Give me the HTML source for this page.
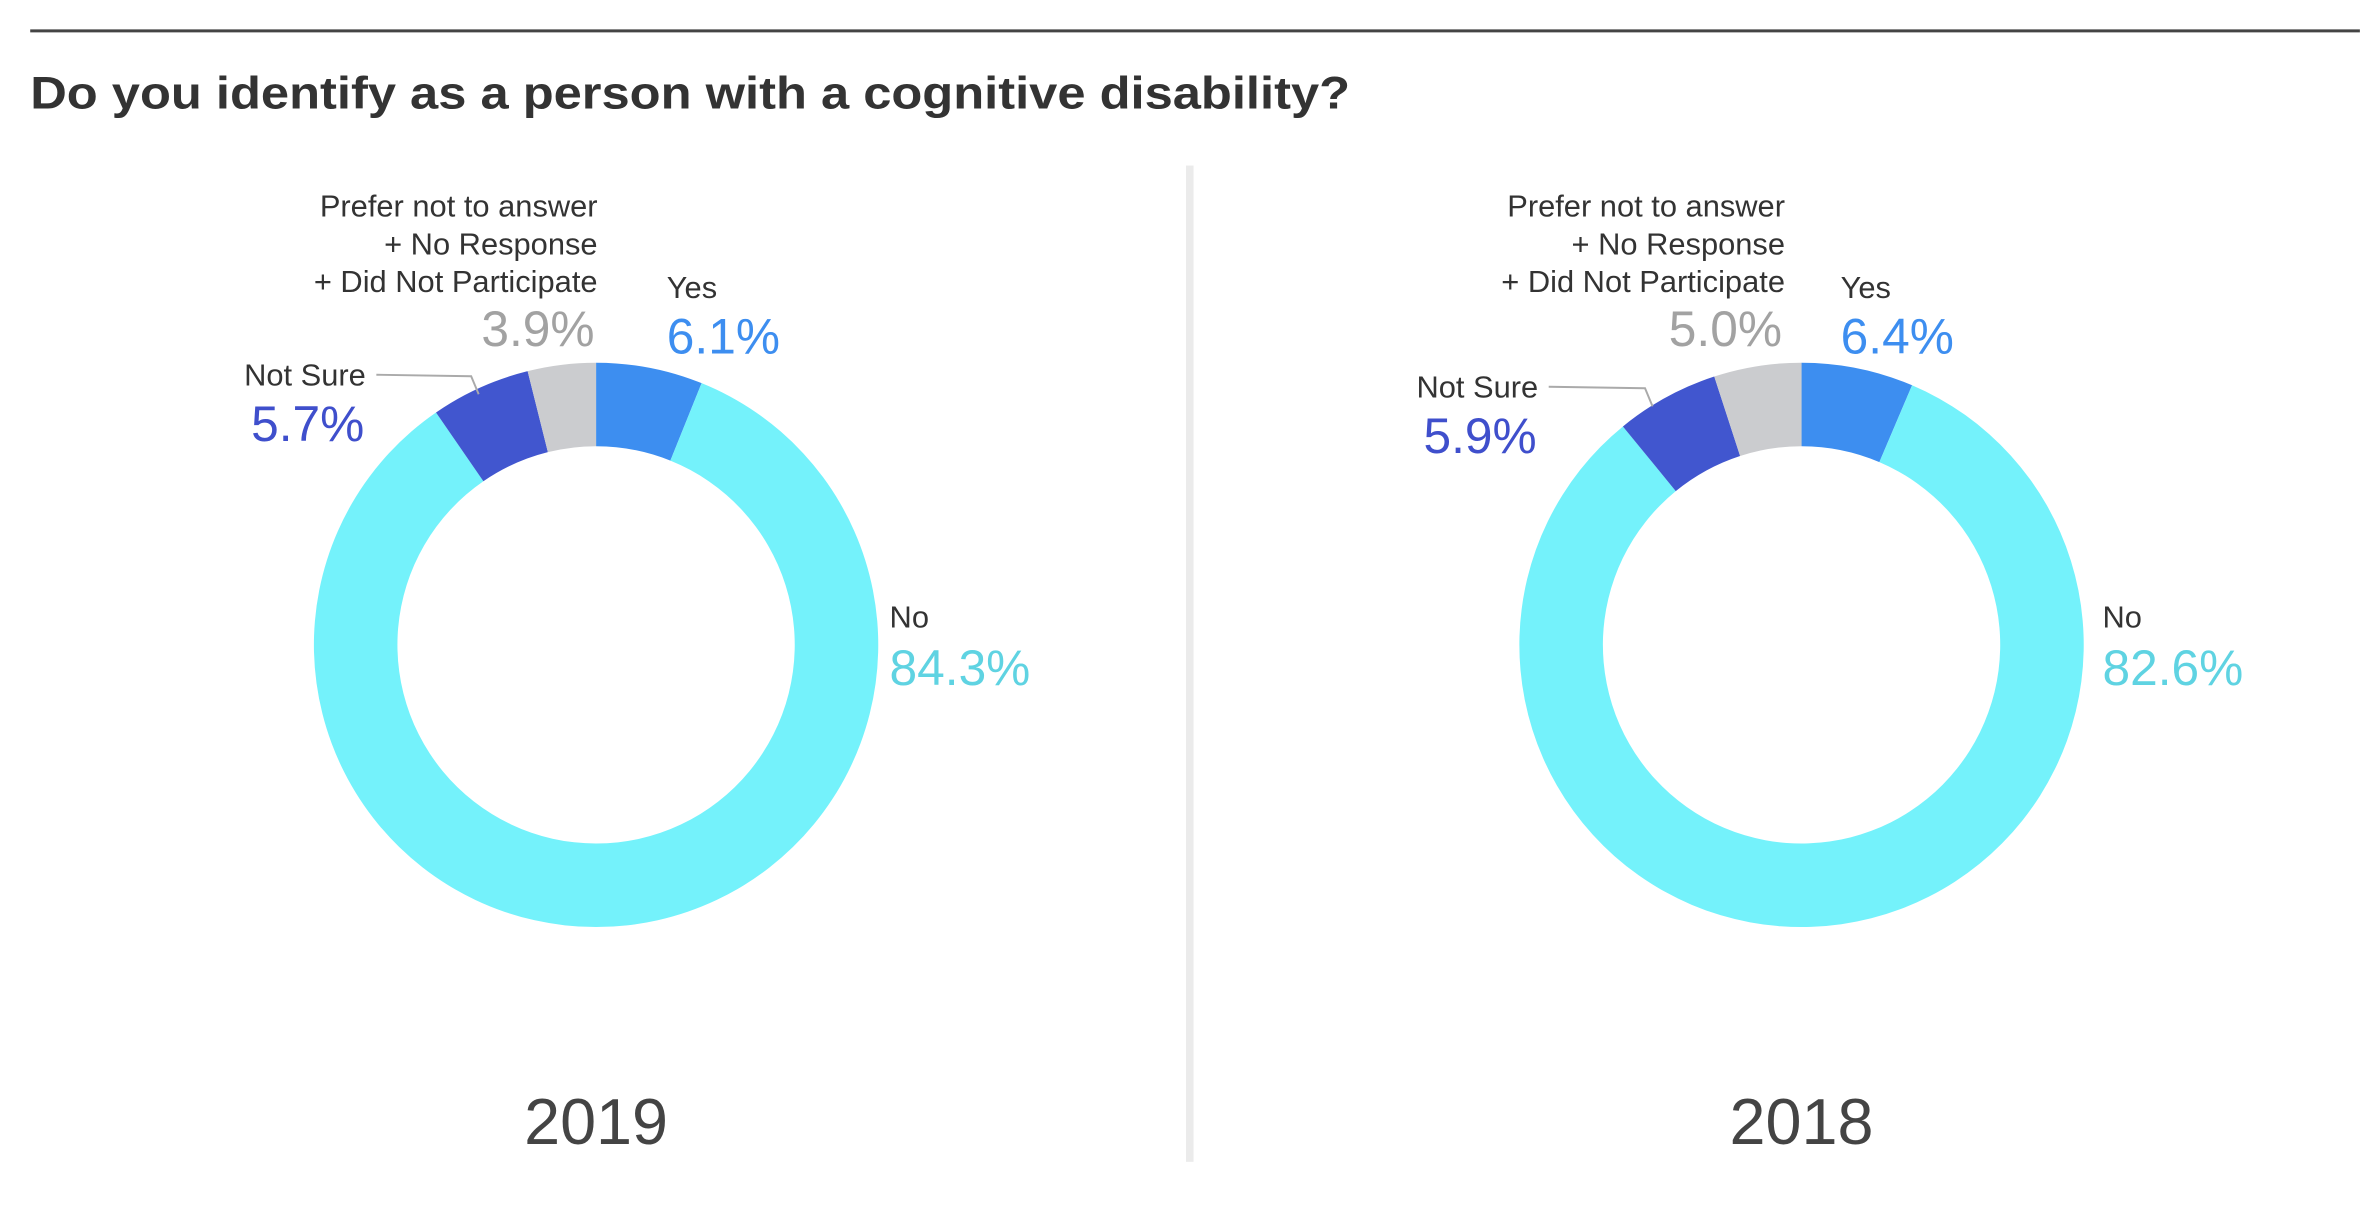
<!DOCTYPE html>
<html><head><meta charset="utf-8"><style>
html,body{margin:0;padding:0;background:#fff;}
svg{display:block;font-family:"Liberation Sans",Arial,sans-serif;}
</style></head><body>
<svg id="chart" width="2360" height="1216" viewBox="0 0 1568 808" xmlns="http://www.w3.org/2000/svg">
<line x1="20" y1="20.5" x2="1568" y2="20.5" stroke="#444" stroke-width="2"/>
<text x="20" y="72" font-size="30" font-weight="bold" fill="#333" textLength="877" lengthAdjust="spacingAndGlyphs">Do you identify as a person with a cognitive disability?</text>
<rect x="788" y="110" width="5" height="662" fill="#ebebeb"/>
<g id="donuts"></g>
</svg>
<script>
const categories = ["Yes", "No", "Not Sure", "Prefer not to answer"];
const years = ["2019", "2018"];
const values2019 = [6.1, 84.3, 5.7, 3.9];
const values2018 = [6.4, 82.6, 5.9, 5.0];
const valueLabels2019 = ["6.1%", "84.3%", "5.7%", "3.9%"];
const valueLabels2018 = ["6.4%", "82.6%", "5.9%", "5.0%"];

const NS = "http://www.w3.org/2000/svg";
const sliceColors = ["#3d8ef0", "#74f2fb", "#4156cf", "#cbcccf"];
const pctColors = ["#3d8ef0", "#5fd3e2", "#3f4fcc", "#a2a2a2"];
const g = document.getElementById("donuts");

function mk(tag, attrs, parent) {
  const e = document.createElementNS(NS, tag);
  for (const k in attrs) e.setAttribute(k, attrs[k]);
  (parent || g).appendChild(e);
  return e;
}
function txt(str, attrs, parent) { const e = mk("text", attrs, parent); e.textContent = str; return e; }
function pt(cx, cy, r, a) { return [cx + r * Math.sin(a), cy - r * Math.cos(a)]; }

function donut(cx, cy, values, labels, year, o) {
  const R = 187.5, r = 132;
  const total = values.reduce((a, b) => a + b, 0);
  const grp = mk("g", {});
  
  
  let a0 = 0;
  values.forEach((v, i) => {
    const a1 = a0 + v / total * 2 * Math.PI;
    const large = (a1 - a0) > Math.PI ? 1 : 0;
    const [x0, y0] = pt(cx, cy, R, a0), [x1, y1] = pt(cx, cy, R, a1);
    const [x2, y2] = pt(cx, cy, r, a1), [x3, y3] = pt(cx, cy, r, a0);
    const p = mk("path", {
      d: `M${x0},${y0} A${R},${R} 0 ${large} 1 ${x1},${y1} L${x2},${y2} A${r},${r} 0 ${large} 0 ${x3},${y3} Z`,
      fill: sliceColors[i]
    }, grp);
    
    
    a0 = a1;
  });
  const L = mk("g", { "font-size": "20.5", fill: "#333" }, grp);
  
  
  const pr = txt("", { x: cx + o.pr, y: 144, "text-anchor": "end" }, L);
  ["Prefer not to answer", "+ No Response", "+ Did Not Participate"].forEach((s, k) => {
    const ts = mk("tspan", { x: cx + o.pr, y: 144 + k * 25 }, pr); ts.textContent = s;
  });
  
  
  const pp = txt(labels[3], { x: cx + o.pr - 2, y: 230, "text-anchor": "end", "font-size": "33", fill: pctColors[3] }, L);
  
  
  const yl = txt("Yes", { x: cx + o.yes, y: 198 }, L);
  
  
  const yv = txt(labels[0], { x: cx + o.yes, y: 235, "font-size": "33", fill: pctColors[0] }, L);
  
  
  const dy = o.dy;
  const nl = txt("Not Sure", { x: cx + o.ns, y: 256 + dy, "text-anchor": "end" }, L);
  
  
  const nv = txt(labels[2], { x: cx + o.ns - 1, y: 293 + dy, "text-anchor": "end", "font-size": "33", fill: pctColors[2] }, L);
  
  
  const ll = mk("polyline", { points: `${cx+o.ns+7},${249+dy} ${cx-83+o.lx},${250+dy} ${cx-78+o.lx},${262+dy}`, fill: "none", stroke: "#aaa", "stroke-width": "1.3" }, L);
  
  
  const nol = txt("No", { x: cx + o.no, y: 417 }, L);
  
  
  const nov = txt(labels[1], { x: cx + o.no, y: 455, "font-size": "33", fill: pctColors[1] }, L);
  
  
  const yr = txt(year, { x: cx, y: 760, "text-anchor": "middle", "font-size": "43", fill: "#444" }, grp);
  
  
}
donut(396, 428.5, values2019, valueLabels2019, years[0], {pr: 1, yes: 47, ns: -153, no: 195, dy: 0, lx: 0});
donut(1197, 428.5, values2018, valueLabels2018, years[1], {pr: -11, yes: 26, ns: -175, no: 200, dy: 8, lx: -21});
</script>
</body></html>
